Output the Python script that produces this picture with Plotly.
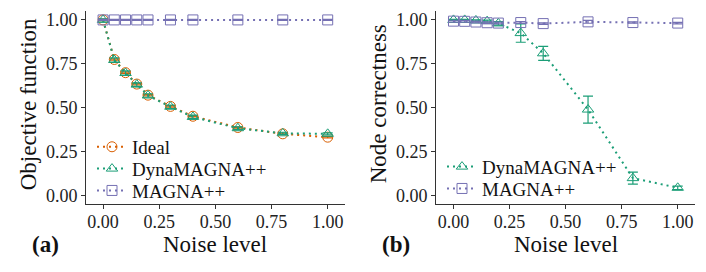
import plotly.graph_objects as go

noise = [0, 0.05, 0.1, 0.15, 0.2, 0.3, 0.4, 0.6, 0.8, 1.0]

# Panel (a): objective function
obj_ideal = [1.0, 0.775, 0.70, 0.635, 0.572, 0.508, 0.452, 0.388, 0.352, 0.333]
obj_ideal_err = [0.004] * 10
obj_dyna = [1.0, 0.772, 0.698, 0.632, 0.570, 0.506, 0.448, 0.384, 0.355, 0.352]
obj_dyna_err = [0.006, 0.012, 0.012, 0.010, 0.010, 0.010, 0.010, 0.008, 0.006, 0.006]
obj_magna = [1.0] * 10
obj_magna_err = [0.003] * 10

# Panel (b): node correctness
nc_dyna = [1.0, 1.0, 0.997, 0.993, 0.98, 0.925, 0.81, 0.49, 0.10, 0.045]
nc_dyna_err = [0.003, 0.003, 0.004, 0.006, 0.01, 0.052, 0.04, 0.077, 0.034, 0.01]
nc_magna = [0.993, 0.992, 0.988, 0.984, 0.982, 0.985, 0.979, 0.989, 0.985, 0.982]
nc_magna_err = [0.005, 0.005, 0.005, 0.005, 0.005, 0.005, 0.004, 0.008, 0.004, 0.004]

x_ticks = [0, 0.25, 0.5, 0.75, 1.0]
y_ticks = [0, 0.25, 0.5, 0.75, 1.0]

ORANGE = "#D95F02"
GREEN = "#1B9E77"
PURPLE = "#7570B3"
FONT = "Liberation Serif, DejaVu Serif, serif"
W, H = 706, 272

fig = go.Figure()

def add(x, y, err, name, color, symbol, xa, ya, legend):
    fig.add_trace(go.Scatter(
        x=x, y=y, name=name, mode="lines+markers",
        xaxis=xa, yaxis=ya, legend=legend, showlegend=True,
        line=dict(color=color, width=2, dash="2px,4px"),
        marker=dict(symbol=symbol, size=10, color=color,
                    line=dict(color=color, width=1)),
        error_y=dict(type="data", array=err, color=color, thickness=1.2, width=5),
    ))

add(noise, obj_ideal, obj_ideal_err, "Ideal", ORANGE, "circle-open", "x", "y", "legend")
add(noise, obj_dyna, obj_dyna_err, "DynaMAGNA++", GREEN, "triangle-up-open", "x", "y", "legend2")
add(noise, obj_magna, obj_magna_err, "MAGNA++", PURPLE, "square-open", "x", "y", "legend3")
add(noise, nc_dyna, nc_dyna_err, "DynaMAGNA++", GREEN, "triangle-up-open", "x2", "y2", "legend4")
add(noise, nc_magna, nc_magna_err, "MAGNA++", PURPLE, "square-open", "x2", "y2", "legend5")

ydom = [1 - 205 / H, 1 - 10.2 / H]
axis_common = dict(
    showline=True, linecolor="#333333", linewidth=1, mirror=False,
    ticks="outside", ticklen=4, tickcolor="#333333", tickwidth=1,
    showgrid=False, zeroline=False,
    tickfont=dict(family=FONT, size=18, color="#222222"),
    tickformat=".2f",
)

def leg(xpx, ypx):
    return dict(x=xpx / W, y=1 - ypx / H, xanchor="left", yanchor="middle",
                bgcolor="rgba(0,0,0,0)", font=dict(family=FONT, size=19, color="#111111"),
                borderwidth=0, visible=True)

fig.update_layout(
    width=W, height=H,
    showlegend=True,
    margin=dict(l=0, r=0, t=0, b=0),
    paper_bgcolor="white", plot_bgcolor="white",
    font=dict(family=FONT, size=18, color="#111111"),
    xaxis=dict(domain=[86 / W, 345 / W], range=[-0.076, 1.077], tickvals=x_ticks,
               anchor="y", ticklabelstandoff=-3, **axis_common),
    yaxis=dict(domain=ydom, range=[-0.05, 1.05], tickvals=y_ticks, anchor="x",
               **axis_common),
    xaxis2=dict(domain=[436 / W, 695 / W], range=[-0.078, 1.077], tickvals=x_ticks,
                anchor="y2", ticklabelstandoff=-3, **axis_common),
    yaxis2=dict(domain=ydom, range=[-0.05, 1.05], tickvals=y_ticks, anchor="x2",
                **axis_common),
    legend=leg(92, 147),
    legend2=leg(92, 169),
    legend3=leg(92, 191),
    legend4=leg(442, 167),
    legend5=leg(442, 189),
)

def ann(text, x, y, size, angle=0, bold=False):
    fig.add_annotation(
        text=f"<b>{text}</b>" if bold else text,
        x=x / W, y=1 - y / H, xref="paper", yref="paper",
        showarrow=False, textangle=angle,
        font=dict(family=FONT, size=size, color="#111111"),
        xanchor="center", yanchor="middle",
    )

ann("Objective function", 28, 104, 23, angle=-90)
ann("Node correctness", 378, 104, 23, angle=-90)
ann("Noise level", 215, 245, 23)
ann("Noise level", 566, 245, 23)
ann("(a)", 45, 245, 23, bold=True)
ann("(b)", 396, 245, 23, bold=True)

fig.write_html("out.html", config={"displayModeBar": False},
               post_script="document.body.style.margin='0';document.body.style.padding='0';")
